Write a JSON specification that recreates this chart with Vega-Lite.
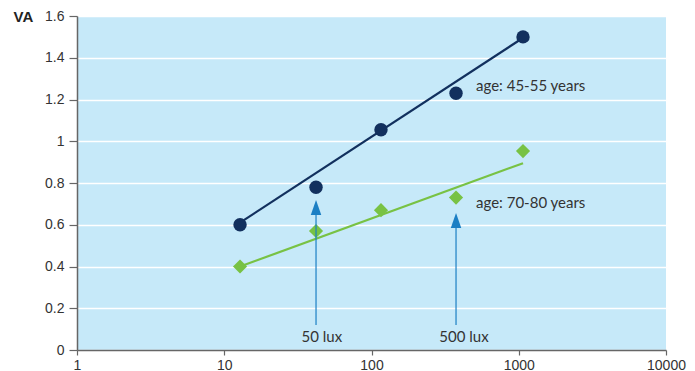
{
  "$schema": "https://vega.github.io/schema/vega-lite/v6.json",
  "width": 589,
  "height": 334,
  "autosize": {"type": "none"},
  "padding": {"left": 77, "top": 16, "right": 29, "bottom": 21},
  "background": "white",
  "config": {
    "view": {"fill": "#c6e9f9", "stroke": null},
    "axis": {
      "labelFont": "Liberation Sans",
      "labelFontSize": 14,
      "labelColor": "#333333",
      "domainColor": "#666666",
      "domainWidth": 1.5,
      "tickColor": "#666666",
      "tickWidth": 1.2
    }
  },
  "datasets": {
    "points": [
      {"series": "45-55", "lux": 12.8, "va": 0.6},
      {"series": "45-55", "lux": 42, "va": 0.78},
      {"series": "45-55", "lux": 116, "va": 1.055},
      {"series": "45-55", "lux": 375, "va": 1.23},
      {"series": "45-55", "lux": 1069, "va": 1.5},
      {"series": "70-80", "lux": 12.8, "va": 0.4},
      {"series": "70-80", "lux": 42, "va": 0.57},
      {"series": "70-80", "lux": 116, "va": 0.67},
      {"series": "70-80", "lux": 375, "va": 0.73},
      {"series": "70-80", "lux": 1069, "va": 0.953}
    ],
    "fits": [
      {"series": "45-55", "lux": 12.8, "va": 0.61},
      {"series": "45-55", "lux": 1040, "va": 1.49},
      {"series": "70-80", "lux": 12.8, "va": 0.4},
      {"series": "70-80", "lux": 1069, "va": 0.895}
    ],
    "arrows": [
      {"label": "50 lux", "lux": 42, "base": 0.12, "head": 0.683, "textLux": 46, "textVa": 0.064},
      {"label": "500 lux", "lux": 375, "base": 0.12, "head": 0.62, "textLux": 425, "textVa": 0.064}
    ],
    "labels": [
      {"text": "age: 45-55 years", "lux": 513, "va": 1.265},
      {"text": "age: 70-80 years", "lux": 513, "va": 0.704}
    ]
  },
  "layer": [
    {
      "data": {"name": "fits"},
      "mark": {"type": "line", "strokeWidth": 2.2},
      "encoding": {
        "x": {
          "field": "lux", "type": "quantitative",
          "scale": {"type": "log", "domain": [1, 10000], "nice": false},
          "axis": {"title": null, "values": [1, 10, 100, 1000, 10000], "format": "d", "grid": false, "tickSize": 5, "labelPadding": 3, "labelFlush": false, "labelOverlap": false}
        },
        "y": {
          "field": "va", "type": "quantitative",
          "scale": {"domain": [0, 1.6], "nice": false},
          "axis": {
            "title": "VA", "titleAngle": 0, "titleAlign": "left", "titleBaseline": "middle",
            "titleX": -64, "titleY": 0, "titleFont": "Liberation Sans", "titleFontSize": 15, "titleFontWeight": "bold", "titleColor": "#222222",
            "values": [0, 0.2, 0.4, 0.6, 0.8, 1, 1.2, 1.4, 1.6], "format": "~f",
            "grid": true, "gridColor": "white", "gridWidth": 1.5, "tickSize": 8, "labelPadding": 5
          }
        },
        "color": {"field": "series", "type": "nominal", "scale": {"domain": ["45-55", "70-80"], "range": ["#12305e", "#78c244"]}, "legend": null},
        "detail": {"field": "series"}
      }
    },
    {
      "data": {"name": "points"},
      "mark": {"type": "point", "filled": true, "opacity": 1},
      "encoding": {
        "x": {"field": "lux", "type": "quantitative"},
        "y": {"field": "va", "type": "quantitative"},
        "color": {"field": "series", "type": "nominal", "legend": null},
        "shape": {"field": "series", "type": "nominal", "scale": {"domain": ["45-55", "70-80"], "range": ["circle", "diamond"]}, "legend": null},
        "size": {"field": "series", "type": "nominal", "scale": {"domain": ["45-55", "70-80"], "range": [180, 200]}, "legend": null}
      }
    },
    {
      "data": {"name": "arrows"},
      "mark": {"type": "rule", "color": "#1b7fc4", "strokeWidth": 1.2},
      "encoding": {
        "x": {"field": "lux", "type": "quantitative"},
        "y": {"field": "base", "type": "quantitative"},
        "y2": {"field": "head"}
      }
    },
    {
      "data": {"name": "arrows"},
      "mark": {"type": "point", "filled": true, "opacity": 1, "color": "#1b7fc4", "shape": "M0,-1L-0.7,1L0.7,1Z", "size": 225},
      "encoding": {
        "x": {"field": "lux", "type": "quantitative"},
        "y": {"field": "head", "type": "quantitative"}
      }
    },
    {
      "data": {"name": "arrows"},
      "mark": {"type": "text", "font": "Lato", "fontSize": 15, "color": "#333333", "align": "center", "baseline": "middle"},
      "encoding": {
        "x": {"field": "textLux", "type": "quantitative"},
        "y": {"field": "textVa", "type": "quantitative"},
        "text": {"field": "label"}
      }
    },
    {
      "data": {"name": "labels"},
      "mark": {"type": "text", "font": "Lato", "fontSize": 15, "color": "#333333", "align": "left", "baseline": "middle"},
      "encoding": {
        "x": {"field": "lux", "type": "quantitative"},
        "y": {"field": "va", "type": "quantitative"},
        "text": {"field": "text"}
      }
    }
  ]
}
